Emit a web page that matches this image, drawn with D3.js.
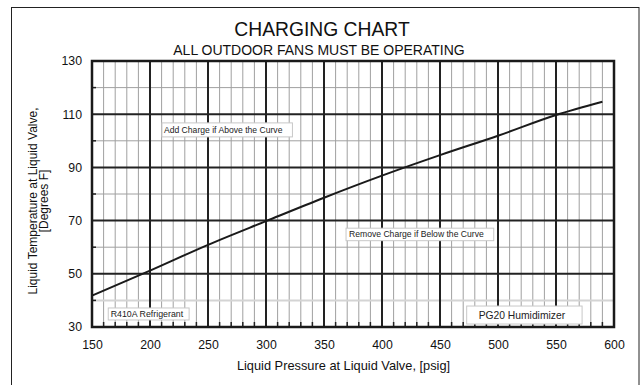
<!DOCTYPE html>
<html>
<head>
<meta charset="utf-8">
<script src="https://cdn.jsdelivr.net/npm/d3@7"></script>
<style>
  html, body { margin: 0; padding: 0; background: #fff; }
  svg { display: block; font-family: "Liberation Sans", Arial, sans-serif; }
</style>
</head>
<body>
<svg id="chart" width="643" height="385"></svg>
<script>
// Charging curve: liquid pressure (psig) vs. liquid temperature (°F)
const pressure    = [150, 200, 250, 300, 350, 400, 450, 500, 550, 590];
const temperature = [41.8, 51.2, 60.9, 69.8, 78.6, 86.9, 94.6, 101.9, 109.7, 114.7];

const xTicks = [150, 200, 250, 300, 350, 400, 450, 500, 550, 600];
const yTicks = [30, 50, 70, 90, 110, 130];

const titleText = "CHARGING CHART";
const subtitleText = "ALL OUTDOOR FANS MUST BE OPERATING";
const xTitle = "Liquid Pressure at Liquid Valve, [psig]";
const yTitleLines = ["Liquid Temperature at Liquid Valve,", "[Degrees F]"];

// annotation boxes: anchored at left edge / vertical centre in data units
const noteTexts = [
  "Add Charge if Above the Curve",
  "Remove Charge if Below the Curve",
  "R410A Refrigerant",
  "PG20 Humidimizer"
];
const noteAnchors = [[210.3, 104.1], [369, 64.8], [164, 34.9], [473, 34.5]];
const noteStyle = [
  { size: 8.6, padL: 2, padR: 10, h: 14 },
  { size: 8.6, padL: 3, padR: 10, h: 12.5 },
  { size: 8.8, padL: 2.5, padR: 6, h: 12 },
  { size: 10.3, padL: 12, padR: 17, h: 18 }
];

const svg = d3.select("#chart");
const plot = { left: 92, right: 614, top: 61, bottom: 327 };

const x = d3.scaleLinear().domain([150, 600]).range([plot.left, plot.right]);
const y = d3.scaleLinear().domain([30, 130]).range([plot.bottom, plot.top]);

// outer frame
svg.append("rect")
  .attr("x", 11.5).attr("y", 7.5)
  .attr("width", 627.5).attr("height", 400)
  .attr("fill", "none").attr("stroke", "#222").attr("stroke-width", 1);

// titles
svg.append("text").attr("x", 322).attr("y", 36)
  .attr("text-anchor", "middle").attr("font-size", 19.3).attr("fill", "#111")
  .text(titleText);
svg.append("text").attr("x", 319).attr("y", 55)
  .attr("text-anchor", "middle").attr("font-size", 14).attr("fill", "#111")
  .text(subtitleText);

const g = svg.append("g");

// minor grid every 10 units
const xMinor = d3.range(160, 600, 10).filter(v => v % 50 !== 0);
const yMinor = d3.range(40, 130, 10).filter(v => v % 20 !== 10);

g.selectAll(".vminor").data(xMinor).join("line")
  .attr("x1", d => x(d)).attr("x2", d => x(d))
  .attr("y1", plot.top).attr("y2", plot.bottom)
  .attr("stroke", "#a0a0a0").attr("stroke-width", 1);

g.selectAll(".hminor").data(yMinor).join("line")
  .attr("x1", plot.left).attr("x2", plot.right)
  .attr("y1", d => y(d)).attr("y2", d => y(d))
  .attr("stroke", d => d === 40 ? "#d4d4d4" : "#a0a0a0")
  .attr("stroke-width", d => d === 40 ? 2 : 1);

// major grid
g.selectAll(".vmajor").data(xTicks.slice(1, -1)).join("line")
  .attr("x1", d => x(d)).attr("x2", d => x(d))
  .attr("y1", plot.top).attr("y2", plot.bottom)
  .attr("stroke", "#222").attr("stroke-width", 2);

g.selectAll(".hmajor").data(yTicks.slice(1, -1)).join("line")
  .attr("x1", plot.left).attr("x2", plot.right)
  .attr("y1", d => y(d)).attr("y2", d => y(d))
  .attr("stroke", "#222").attr("stroke-width", 2);

// small inward ticks along the bottom and left edges
g.selectAll(".btick").data(xMinor).join("line")
  .attr("x1", d => x(d)).attr("x2", d => x(d))
  .attr("y1", plot.bottom).attr("y2", plot.bottom - 5)
  .attr("stroke", "#222").attr("stroke-width", 1.5);

g.selectAll(".ltick").data(yMinor).join("line")
  .attr("x1", plot.left).attr("x2", plot.left + 4)
  .attr("y1", d => y(d)).attr("y2", d => y(d))
  .attr("stroke", "#222").attr("stroke-width", 1.5);

// note boxes
noteTexts.forEach((txt, i) => {
  const st = noteStyle[i];
  const bx = x(noteAnchors[i][0]), cy = y(noteAnchors[i][1]);
  const rect = g.append("rect");
  const t = g.append("text").attr("x", bx + st.padL).attr("y", cy)
    .attr("dy", "0.35em").attr("font-size", st.size).attr("fill", "#222")
    .text(txt);
  const w = t.node().getComputedTextLength();
  rect.attr("x", bx).attr("y", cy - st.h / 2)
    .attr("width", w + st.padL + st.padR).attr("height", st.h)
    .attr("fill", "#fff").attr("stroke", "#c8c8c8").attr("stroke-width", 1);
});

// charging curve
const line = d3.line()
  .x((d, i) => x(pressure[i]))
  .y(d => y(d))
  .curve(d3.curveMonotoneX);

g.append("path").datum(temperature)
  .attr("d", line)
  .attr("fill", "none").attr("stroke", "#1a1a1a").attr("stroke-width", 2);

// plot border
g.append("rect")
  .attr("x", plot.left).attr("y", plot.top)
  .attr("width", plot.right - plot.left).attr("height", plot.bottom - plot.top)
  .attr("fill", "none").attr("stroke", "#1a1a1a").attr("stroke-width", 2.5);

// axes labels
const xAxis = d3.axisBottom(x).tickValues(xTicks).tickSize(0).tickPadding(13.5);
svg.append("g").attr("transform", `translate(0,${plot.bottom})`).call(xAxis)
  .call(a => a.select(".domain").remove())
  .selectAll("text").attr("font-size", 12.3).attr("fill", "#111")
  .attr("font-family", "Liberation Sans, Arial, sans-serif");

const yAxis = d3.axisLeft(y).tickValues(yTicks).tickSize(0).tickPadding(10);
svg.append("g").attr("transform", `translate(${plot.left},0)`).call(yAxis)
  .call(a => a.select(".domain").remove())
  .selectAll("text").attr("font-size", 12.3).attr("fill", "#111")
  .attr("font-family", "Liberation Sans, Arial, sans-serif");

// axis titles
svg.append("text").attr("x", 343.5).attr("y", 369.5)
  .attr("text-anchor", "middle").attr("font-size", 12.8).attr("fill", "#111")
  .text(xTitle);

const yt = svg.append("text")
  .attr("transform", `translate(36.5,201) rotate(-90)`)
  .attr("text-anchor", "middle").attr("font-size", 12).attr("fill", "#111");
yTitleLines.forEach((s, i) => {
  yt.append("tspan").attr("x", 0).attr("dy", i === 0 ? 0 : 11.5).text(s);
});
</script>
</body>
</html>
